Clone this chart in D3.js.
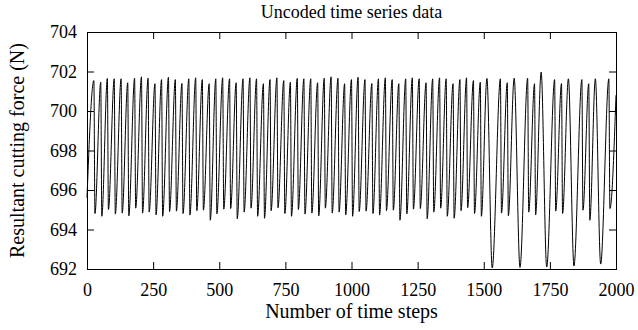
<!DOCTYPE html>
<html>
<head>
<meta charset="utf-8">
<script src="https://cdn.jsdelivr.net/npm/d3@7"></script>
<style>
  body { margin: 0; background: #fff; }
  svg { display: block; }
  svg text { font-family: "Liberation Serif", serif !important; fill: #000; }
</style>
</head>
<body>
<div id="chart"></div>
<script>
// Textos
const titulo = "Uncoded time series data";
const rotuloX = "Number of time steps";
const rotuloY = "Resultant cutting force (N)";

// Ticks
const ticksX = [0, 250, 500, 750, 1000, 1250, 1500, 1750, 2000];
const ticksY = [692, 694, 696, 698, 700, 702, 704];

// Vértices da série (picos e vales), em ordem temporal
const passos = [
  0,
  26, 30, 52, 56, 77, 81, 103, 107, 129, 133, 154, 158, 180, 184, 206, 210,
  231, 235, 257, 261, 282, 286, 308, 312, 334, 338, 359, 363, 385, 389, 411, 415,
  436, 440, 462, 466, 487, 491, 513, 517, 539, 543, 564, 568, 590, 594, 616, 620,
  641, 645, 667, 671, 692, 696, 718, 722,
  744, 748, 769, 773, 795, 799, 820, 824, 846, 850, 872, 876, 897, 901, 923, 927,
  949, 953, 974, 978, 1000, 1004, 1025, 1029, 1051, 1055, 1077, 1081, 1102, 1106,
  1128, 1132, 1154, 1158, 1179, 1183, 1205, 1209, 1230, 1234, 1256, 1260, 1282, 1286,
  1307, 1311, 1333, 1337, 1358, 1362, 1384, 1388, 1410, 1414, 1435, 1439,
  1461, 1465, 1487, 1491, 1512, 1532, 1563, 1567, 1589, 1593, 1615, 1637,
  1666, 1670, 1692, 1696, 1717, 1738, 1768, 1772, 1794, 1798, 1820, 1841,
  1871, 1875, 1897, 1901, 1922, 1942, 1973, 1977,
  2000
];
const forcas = [
  695.6,
  701.54, 694.81, 701.46, 694.67, 701.65, 695.01, 701.63, 694.78, 701.63, 694.83, 701.43, 694.69, 701.66, 695.08, 701.73, 694.83,
  701.66, 694.88, 701.38, 694.74, 701.59, 694.67, 701.71, 694.91, 701.59, 694.93, 701.39, 694.81, 701.63, 694.73, 701.68, 694.95,
  701.59, 694.98, 701.38, 694.47, 701.63, 694.79, 701.68, 695.03, 701.63, 695.06, 701.43, 694.54, 701.63, 694.88, 701.68, 695.08,
  701.63, 694.67, 701.38, 694.57, 701.59, 694.95, 701.68, 695.10,
  701.54, 694.81, 701.46, 694.67, 701.65, 695.01, 701.63, 694.78, 701.63, 694.83, 701.43, 694.69, 701.66, 695.08, 701.73, 694.83,
  701.66, 694.88, 701.38, 694.74, 701.59, 694.67, 701.71, 694.91, 701.59, 694.93, 701.39, 694.81,
  701.63, 694.73, 701.68, 694.95, 701.59, 694.98, 701.38, 694.47, 701.63, 694.79, 701.68, 695.03,
  701.63, 695.06, 701.43, 694.54, 701.63, 694.88, 701.68, 695.08, 701.63, 694.67, 701.38, 694.57,
  701.59, 694.95, 701.68, 695.10,
  701.54, 694.81, 701.46, 694.67, 701.65, 692.05, 701.63, 694.83, 701.43, 694.69, 701.66, 692.08,
  701.66, 694.88, 701.38, 694.74, 701.97, 692.10, 701.59, 694.93, 701.39, 694.81, 701.63, 692.15,
  701.59, 694.98, 701.38, 694.47, 701.63, 692.25, 701.63, 695.06,
  700.8
];

const largura = 638, altura = 330;
const margem = { top: 32, right: 22, bottom: 61, left: 87 };
const larguraPlot = largura - margem.left - margem.right;
const alturaPlot = altura - margem.top - margem.bottom;

const svg = d3.select("#chart").append("svg")
  .attr("width", largura)
  .attr("height", altura);

const x = d3.scaleLinear().domain([0, 2000]).range([0, larguraPlot]);
const y = d3.scaleLinear().domain([692, 704]).range([alturaPlot, 0]);

const g = svg.append("g").attr("transform", `translate(${margem.left},${margem.top})`);

// Eixos com ticks para dentro (estilo gnuplot), espelhados em cima e à direita
const eixoX = g.append("g")
  .attr("transform", `translate(0,${alturaPlot})`)
  .call(d3.axisBottom(x).tickValues(ticksX).tickFormat(d3.format("d")).tickSize(-7).tickPadding(14));
const eixoY = g.append("g")
  .call(d3.axisLeft(y).tickValues(ticksY).tickFormat(d3.format("d")).tickSize(-7).tickPadding(10));
g.append("g")
  .call(d3.axisTop(x).tickValues(ticksX).tickSize(-7).tickFormat(""));
g.append("g")
  .attr("transform", `translate(${larguraPlot},0)`)
  .call(d3.axisRight(y).tickValues(ticksY).tickSize(-7).tickFormat(""));

g.selectAll(".domain").remove();
g.selectAll(".tick line").attr("stroke", "#000");
[eixoX, eixoY].forEach(eixo => {
  eixo.attr("font-family", null);
  eixo.selectAll("text")
    .attr("fill", "#000")
    .style("font-family", "Liberation Serif")
    .style("font-size", "18px");
});

// Série
const pontos = passos.map((p, i) => [p, forcas[i]]);
const linha = d3.line()
  .x(d => x(d[0]))
  .y(d => y(d[1]))
  .curve(d3.curveMonotoneX);

g.append("path")
  .datum(pontos)
  .attr("fill", "none")
  .attr("stroke", "#000")
  .attr("stroke-width", 1)
  .attr("d", linha);

// Moldura
g.append("rect")
  .attr("x", 0.5).attr("y", 0.5)
  .attr("width", larguraPlot).attr("height", alturaPlot)
  .attr("fill", "none")
  .attr("stroke", "#000")
  .attr("stroke-width", 1);

// Títulos
svg.append("text")
  .attr("x", margem.left + larguraPlot / 2)
  .attr("y", 18)
  .attr("text-anchor", "middle")
  .style("font-size", "18px")
  .text(titulo);

svg.append("text")
  .attr("x", margem.left + larguraPlot / 2)
  .attr("y", 318)
  .attr("text-anchor", "middle")
  .style("font-size", "20px")
  .text(rotuloX);

svg.append("text")
  .attr("transform", `translate(24,${margem.top + alturaPlot / 2}) rotate(-90)`)
  .attr("text-anchor", "middle")
  .style("font-size", "20px")
  .text(rotuloY);
</script>
</body>
</html>
